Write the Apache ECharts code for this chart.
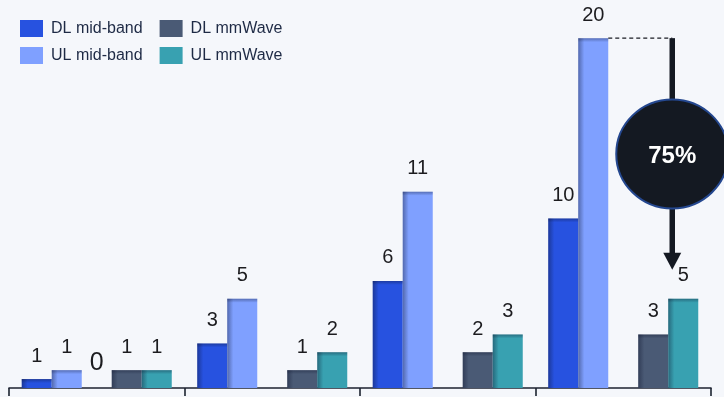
<!DOCTYPE html>
<html>
<head>
<meta charset="utf-8">
<script src="https://cdn.jsdelivr.net/npm/echarts@6/dist/echarts.min.js"></script>
<style>
  html, body { margin: 0; padding: 0; background: #f5f7fb; }
  #chart { width: 724px; height: 397px; }
</style>
</head>
<body>
<div id="chart"></div>
<script>
// Throughput per scenario, split by link direction and band
const categories = ['Scenario 1', 'Scenario 2', 'Scenario 3', 'Scenario 4'];
const dlMidBand  = [0.5, 2.5, 6, 9.5];
const ulMidBand  = [1, 5, 11, 19.6];
const dlMmWave   = [1, 1, 2, 3];
const ulMmWave   = [1, 2, 3, 5];
const bandGap    = [0, null, null, null];

const FONT = '"Liberation Sans", Arial, sans-serif';
const BAR_W = 30;

const palette = {
  dlMid: '#2752e0',
  ulMid: '#7fa0ff',
  dlMmw: '#4a5a75',
  ulMmw: '#38a1b1'
};

const chart = echarts.init(document.getElementById('chart'), null, { renderer: 'canvas' });

const valueLabel = {
  show: true,
  position: 'top',
  distance: 13,
  fontSize: 20,
  fontFamily: FONT,
  color: '#1c1c1f',
  formatter: p => (p.value == null ? '' : String(Math.round(p.value)))
};

function barSeries(name, data, color) {
  return {
    name, type: 'bar', data,
    barWidth: BAR_W, barGap: '0%',
    itemStyle: { color },
    label: valueLabel,
    z: 2
  };
}

// slot index of each drawn bar inside a category (slot 2 is the band gap)
const shadedSets = [[dlMidBand, 0], [ulMidBand, 1], [dlMmWave, 3], [ulMmWave, 4]];
const shadeData = [];
shadedSets.forEach(([arr, slot]) => arr.forEach((v, i) => shadeData.push([i, v, slot])));

const legendText = { fontSize: 16, fontFamily: FONT, color: '#1e2a45', padding: [0, 0, 0, 3] };
const legendBase = {
  left: 20, padding: 0, itemWidth: 23, itemHeight: 17, itemGap: 17,
  icon: 'rect', textStyle: legendText, selectedMode: false
};

chart.setOption({
  backgroundColor: '#f5f7fb',
  animation: false,
  legend: [
    Object.assign({}, legendBase, {
      top: 20,
      data: [
        { name: 'DL mid-band', itemStyle: { color: palette.dlMid } },
        { name: 'DL mmWave', itemStyle: { color: palette.dlMmw } }
      ]
    }),
    Object.assign({}, legendBase, {
      top: 47,
      data: [
        { name: 'UL mid-band', itemStyle: { color: palette.ulMid } },
        { name: 'UL mmWave', itemStyle: { color: palette.ulMmw } }
      ]
    })
  ],
  grid: { left: 9, right: 13, top: 31, bottom: 9 },
  xAxis: {
    type: 'category',
    data: categories,
    axisLine: { lineStyle: { color: '#1c2230', width: 1.6 } },
    axisTick: { show: true, length: 8, lineStyle: { color: '#1c2230', width: 1.6 } },
    axisLabel: { show: false }
  },
  yAxis: {
    type: 'value', min: 0, max: 20,
    show: false,
    splitLine: { show: false }
  },
  series: [
    barSeries('DL mid-band', dlMidBand, palette.dlMid),
    barSeries('UL mid-band', ulMidBand, palette.ulMid),
    {
      name: 'band gap', type: 'bar', data: bandGap,
      barWidth: BAR_W, barGap: '0%',
      itemStyle: { color: 'rgba(0,0,0,0)' },
      label: Object.assign({}, valueLabel, { fontSize: 25, distance: 12 }),
      z: 2
    },
    barSeries('DL mmWave', dlMmWave, palette.dlMmw),
    barSeries('UL mmWave', ulMmWave, palette.ulMmw),
    {
      // inner shading along the left and top edges of every bar
      type: 'custom',
      silent: true,
      z: 3,
      data: shadeData,
      renderItem: (params, api) => {
        const i = api.value(0), v = api.value(1), slot = api.value(2);
        const top = api.coord([i, v]);
        const base = api.coord([i, 0]);
        const x = top[0] - 2.5 * BAR_W + slot * BAR_W;
        const h = base[1] - top[1];
        return {
          type: 'group',
          children: [
            {
              type: 'rect',
              shape: { x: x, y: top[1], width: 6, height: h },
              style: {
                fill: new echarts.graphic.LinearGradient(0, 0, 1, 0, [
                  { offset: 0, color: 'rgba(10,15,40,0.38)' },
                  { offset: 1, color: 'rgba(10,15,40,0)' }
                ])
              }
            },
            {
              type: 'rect',
              shape: { x: x, y: top[1], width: BAR_W, height: Math.min(4, h) },
              style: {
                fill: new echarts.graphic.LinearGradient(0, 0, 0, 1, [
                  { offset: 0, color: 'rgba(10,15,40,0.35)' },
                  { offset: 1, color: 'rgba(10,15,40,0)' }
                ])
              }
            }
          ]
        };
      }
    }
  ]
});

// Reduction callout between the UL mid-band and UL mmWave bars of the last scenario
function drawCallout() {
  const last = categories.length - 1;
  const from = chart.convertToPixel({ gridIndex: 0 }, [last, ulMidBand[last]]);
  const to = chart.convertToPixel({ gridIndex: 0 }, [last, ulMmWave[last]]);
  const cx = from[0];
  const fromEdge = cx - 2.5 * BAR_W + 2 * BAR_W;
  const ax = cx + 1.5 * BAR_W + 4;
  const yTop = from[1];
  const tipY = to[1] - 29;
  const cy = (yTop + tipY) / 2;
  const rx = 56, ry = 54.5, headH = 17, headW = 9;
  const pct = Math.round((1 - Math.round(ulMmWave[last]) / Math.round(ulMidBand[last])) * 100);
  const dark = '#141922';

  chart.setOption({
    graphic: [
      { type: 'line', shape: { x1: fromEdge, y1: yTop, x2: ax, y2: yTop },
        style: { stroke: '#1a1d24', lineWidth: 1.3, lineDash: [4, 3] }, z: 10 },
      { type: 'line', shape: { x1: ax, y1: yTop, x2: ax, y2: cy - ry },
        style: { stroke: dark, lineWidth: 5.5 }, z: 10 },
      { type: 'line', shape: { x1: ax, y1: cy + ry, x2: ax, y2: tipY - headH + 1 },
        style: { stroke: dark, lineWidth: 5.5 }, z: 10 },
      { type: 'polygon', shape: { points: [[ax - headW, tipY - headH], [ax + headW, tipY - headH], [ax, tipY]] },
        style: { fill: dark }, z: 10 },
      { type: 'ellipse', shape: { cx: ax, cy: cy, rx: rx, ry: ry },
        style: { fill: dark, stroke: '#24478f', lineWidth: 2 }, z: 11 },
      { type: 'text', x: ax, y: cy + 2, z: 12,
        style: { text: pct + '%', fill: '#ffffff', font: 'bold 24px ' + FONT, align: 'center', verticalAlign: 'middle' } }
    ]
  });
}
drawCallout();
</script>
</body>
</html>
